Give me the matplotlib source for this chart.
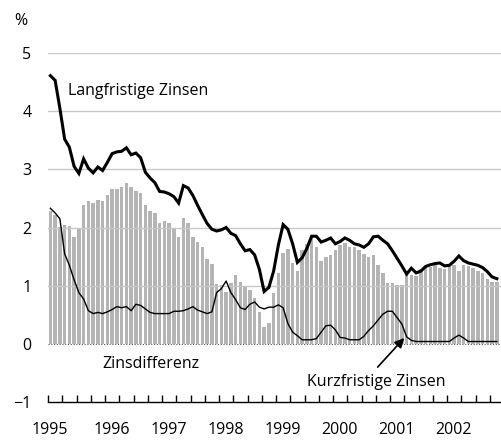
import numpy as np
import matplotlib
matplotlib.use("Agg")
import matplotlib.pyplot as plt

# === DATA (monthly, Jan 1995 - Nov 2002) ===
long_rate = [
    4.61, 4.53, 4.05, 3.52, 3.38, 3.05, 2.93, 3.18, 3.02, 2.94,
    3.04, 2.98, 3.12, 3.27, 3.30, 3.31, 3.37, 3.25, 3.28, 3.20,
    2.95, 2.85, 2.77, 2.62, 2.61, 2.58, 2.53, 2.42, 2.72, 2.68,
    2.55, 2.38, 2.22, 2.07, 1.97, 1.94, 1.96, 2.00, 1.90, 1.86,
    1.72, 1.60, 1.62, 1.53, 1.28, 0.90, 0.97, 1.25, 1.70, 2.05,
    1.97, 1.72, 1.40, 1.48, 1.64, 1.85, 1.85, 1.75, 1.78, 1.82,
    1.72, 1.76, 1.82, 1.78, 1.72, 1.70, 1.66, 1.72, 1.84, 1.85,
    1.78, 1.72, 1.60, 1.47, 1.34, 1.20, 1.30, 1.22, 1.25, 1.33,
    1.36, 1.38, 1.39, 1.34, 1.35, 1.42, 1.51, 1.43, 1.39, 1.37,
    1.35, 1.31, 1.24, 1.15, 1.12,
]
short_rate = [
    2.33, 2.25, 2.15, 1.55, 1.35, 1.10, 0.88, 0.77, 0.57, 0.52,
    0.54, 0.52, 0.55, 0.59, 0.64, 0.62, 0.64, 0.57, 0.68, 0.66,
    0.60, 0.54, 0.52, 0.52, 0.52, 0.52, 0.56, 0.56, 0.57, 0.60,
    0.64, 0.58, 0.55, 0.52, 0.55, 0.88, 0.95, 1.08, 0.88, 0.76,
    0.62, 0.59, 0.68, 0.72, 0.63, 0.60, 0.63, 0.63, 0.67, 0.62,
    0.35, 0.20, 0.14, 0.07, 0.07, 0.07, 0.09, 0.20, 0.31, 0.32,
    0.24, 0.11, 0.10, 0.07, 0.07, 0.07, 0.13, 0.23, 0.31, 0.41,
    0.51, 0.56, 0.56, 0.45, 0.34, 0.12, 0.06, 0.04, 0.04, 0.04,
    0.04, 0.04, 0.04, 0.04, 0.04, 0.10, 0.15, 0.10, 0.04, 0.04,
    0.04, 0.04, 0.04, 0.04, 0.04,
]
spread = [
    2.28, 2.21, 2.01, 2.04, 2.02, 1.84, 1.97, 2.38, 2.45, 2.42,
    2.48, 2.46, 2.56, 2.66, 2.66, 2.70, 2.76, 2.70, 2.63, 2.60,
    2.38, 2.29, 2.25, 2.08, 2.11, 2.07, 1.97, 1.84, 2.17, 2.07,
    1.84, 1.75, 1.66, 1.45, 1.38, 1.03, 1.02, 0.89, 1.05, 1.18,
    1.07, 0.98, 0.93, 0.78, 0.54, 0.29, 0.36, 0.87, 1.22, 1.56,
    1.63, 1.39, 1.25, 1.62, 1.71, 1.83, 1.67, 1.42, 1.49, 1.52,
    1.61, 1.70, 1.74, 1.67, 1.67, 1.61, 1.54, 1.49, 1.52, 1.35,
    1.22, 1.05, 1.05, 1.01, 1.01, 1.26, 1.19, 1.16, 1.29, 1.32,
    1.32, 1.35, 1.31, 1.29, 1.35, 1.35, 1.25, 1.35, 1.33, 1.31,
    1.26, 1.21, 1.12, 1.06, 1.06,
]
years = ["1995", "1996", "1997", "1998", "1999", "2000", "2001", "2002"]
yticks = [-1, 0, 1, 2, 3, 4, 5]

plt.rcParams["font.family"] = ["Open Sans", "DejaVu Sans"]
plt.rcParams["font.size"] = 11.5

W, H = 501, 441
fig = plt.figure(figsize=(W / 100, H / 100), dpi=100)
ax = fig.add_axes([48 / W, 1 - 402 / H, 1 - 48 / W, (402 - 53) / H])

x = np.arange(len(spread)) + 0.5

# grid + zero line
for v in yticks[2:]:
    ax.axhline(v, color="#c8c8c8", lw=1.0, zorder=2)
ax.axhline(0, color="#555555", lw=0.8, ls=(0, (1, 1.5)), zorder=0)

ax.bar(x, spread, width=0.78, color="#b4b4b4", zorder=1)
ax.plot(x, short_rate, color="black", lw=1.0, zorder=3)
ax.plot(x, long_rate, color="black", lw=2.2, zorder=4, solid_joinstyle="miter")

ax.set_xlim(0, (W - 48) / 4.75)
ax.set_ylim(-1, 5)

for s in ["top", "right", "left"]:
    ax.spines[s].set_visible(False)
ax.spines["bottom"].set_position(("data", -1))
ax.spines["bottom"].set_linewidth(1.0)

ax.set_xticks(np.arange(0, 96, 3))
ax.tick_params(axis="x", direction="in", length=5, width=1.0, labelbottom=False)
ax.set_yticks(yticks)
ax.set_yticklabels([str(v).replace("-", "\u2212") for v in yticks])
ax.tick_params(axis="y", length=0, pad=12)

for k, yr in enumerate(years):
    xp = 12 * k + (0.4 if k == 0 else 1.4)
    ax.text(xp, -0.08, yr, transform=ax.get_xaxis_transform(),
            ha="center", va="center")

fig.text(21 / W, 1 - 21 / H, "%", ha="center", va="center")

ax.text(4.2, 4.35, "Langfristige Zinsen", ha="left", va="center")
ax.text(11.5, -0.35, "Zinsdifferenz", ha="left", va="center")
ax.text(54.5, -0.66, "Kurzfristige Zinsen", ha="left", va="center")
ax.annotate("", xy=(75.0, 0.1), xytext=(69.4, -0.4),
            arrowprops=dict(arrowstyle="-|>", color="black", lw=1.2,
                            mutation_scale=14, shrinkA=0, shrinkB=0))

fig.savefig("out.png", dpi=100)
